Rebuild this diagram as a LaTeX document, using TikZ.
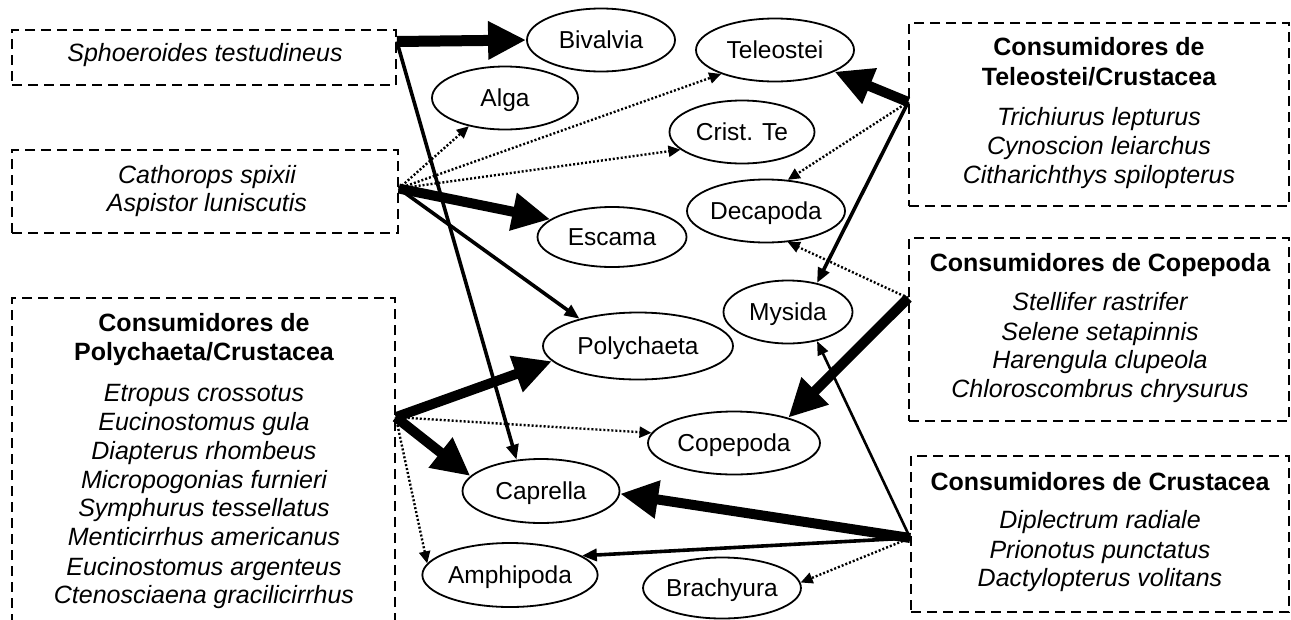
\documentclass[tikz,border=0pt]{standalone}
\usepackage{fontspec}
\setmainfont{Liberation Sans}
\usetikzlibrary{arrows.meta,shapes.geometric}

\begin{document}
\begin{tikzpicture}[x=1pt,y=-1pt,
  taxon/.style={ellipse, draw, line width=1.8pt, inner sep=0pt,
    font=\fontsize{24.5}{29}\selectfont, text height=17.5pt, text depth=0.5pt},
  group/.style={rectangle, draw, line width=1.6pt, dash pattern=on 10pt off 6pt, inner sep=0pt},
  title/.style={anchor=base, font=\fontsize{25}{29}\selectfont\bfseries},
  species/.style={anchor=base, font=\fontsize{25}{29}\selectfont\itshape},
  heavy/.style={line width=10pt, -{Triangle[length=38pt,width=36pt]}},
  medium/.style={line width=3.6pt, -{Triangle[length=15pt,width=12pt]}},
  light/.style={line width=2.6pt, -{Triangle[length=14pt,width=11pt]}},
  faint/.style={line width=2.4pt, dash pattern=on 2pt off 2pt, -{Triangle[length=12pt,width=11pt]}},
]
\useasboundingbox (0,0) rectangle (1291,619);

% prey groups
\node[taxon, minimum width=148pt, minimum height=63pt] (biv) at (601,40) {Bivalvia};
\node[taxon, minimum width=146pt, minimum height=63pt] (alg) at (505,98) {Alga};
\node[taxon, minimum width=158pt, minimum height=63pt] (tel) at (775,50) {Teleostei};
\node[taxon, minimum width=145pt, minimum height=63pt] (cri) at (742,132) {Crist. Te};
\node[taxon, minimum width=158pt, minimum height=63pt] (dec) at (766,211) {Decapoda};
\node[taxon, minimum width=149pt, minimum height=60pt] (esc) at (612,237) {Escama};
\node[taxon, minimum width=129pt, minimum height=63pt] (mys) at (788,312) {Mysida};
\node[taxon, minimum width=190pt, minimum height=67pt] (pol) at (638,346) {Polychaeta};
\node[taxon, minimum width=172pt, minimum height=63pt] (cop) at (734,443) {Copepoda};
\node[taxon, minimum width=157pt, minimum height=64pt] (cap) at (541,491) {Caprella};
\node[taxon, minimum width=150pt, minimum height=64pt] (amp) at (510,575) {Amphipoda};
\node[taxon, minimum width=149pt, minimum height=61pt] (bra) at (722,588) {Brachyura};

% consumer groups
\node[group, minimum width=384pt, minimum height=55pt] (sph) at (204,57.5) {};
\node[group, minimum width=386pt, minimum height=83pt] (cat) at (205,191.5) {};
\node[group, minimum width=383pt, minimum height=342pt] (pcr) at (203.5,469) {};
\node[group, minimum width=380pt, minimum height=183pt] (tcr) at (1099,114.5) {};
\node[group, minimum width=380pt, minimum height=183pt] (cpc) at (1099,329.5) {};
\node[group, minimum width=378pt, minimum height=156pt] (crc) at (1100,534) {};

% texts of the consumer groups
\node[species] (sph1) at (205,61.5) {Sphoeroides testudineus};

\node[species] (cat1) at (207,183.5) {Cathorops spixii};
\node[species] (cat2) at (207,211.5) {Aspistor luniscutis};

\node[title] (pcrt1) at (204,331.5) {Consumidores de};
\node[title] (pcrt2) at (204,360.5) {Polychaeta/Crustacea};
\node[species] (pcr1) at (204,401.5) {Etropus crossotus};
\node[species] (pcr2) at (204,430.5) {Eucinostomus gula};
\node[species] (pcr3) at (204,459.5) {Diapterus rhombeus};
\node[species] (pcr4) at (204,488.5) {Micropogonias furnieri};
\node[species] (pcr5) at (204,516.5) {Symphurus tessellatus};
\node[species] (pcr6) at (204,545.5) {Menticirrhus americanus};
\node[species] (pcr7) at (204,575.5) {Eucinostomus argenteus};
\node[species] (pcr8) at (204,603.5) {Ctenosciaena gracilicirrhus};

\node[title] (tcrt1) at (1099,55.5) {Consumidores de};
\node[title] (tcrt2) at (1099,85.5) {Teleostei/Crustacea};
\node[species] (tcr1) at (1099,125.5) {Trichiurus lepturus};
\node[species] (tcr2) at (1099,154.5) {Cynoscion leiarchus};
\node[species] (tcr3) at (1099,183.5) {Citharichthys spilopterus};

\node[title] (cpct) at (1100,271.5) {Consumidores de Copepoda};
\node[species] (cpc1) at (1100,310.5) {Stellifer rastrifer};
\node[species] (cpc2) at (1100,340.5) {Selene setapinnis};
\node[species] (cpc3) at (1100,368.5) {Harengula clupeola};
\node[species] (cpc4) at (1100,397.5) {Chloroscombrus chrysurus};

\node[title] (crct) at (1100,490.5) {Consumidores de Crustacea};
\node[species] (crc1) at (1100,528.5) {Diplectrum radiale};
\node[species] (crc2) at (1100,558.5) {Prionotus punctatus};
\node[species] (crc3) at (1100,586.5) {Dactylopterus volitans};

% ports on the box borders
\coordinate (sphout) at ([yshift=16pt]sph.east);
\coordinate (catout) at ([yshift=3pt]cat.east);
\coordinate (pcrout) at ([yshift=-120pt]pcr.north east);
\coordinate (tcrout) at ([yshift=12.5pt]tcr.west);
\coordinate (cpcout) at ([yshift=31.5pt]cpc.west);
\coordinate (crcout) at ([yshift=-4pt]crc.west);

% diet links
\draw[heavy, line width=11pt] (sphout) -- (biv.west);
\draw[medium] (sphout) -- (cap.128);

\draw[faint] (catout) -- (alg.218);
\draw[faint] (catout) -- (tel.204);
\draw[faint] (catout) -- (cri.196);
\draw[heavy] (catout) -- (esc.164);
\draw[medium] (catout) -- (pol.155);

\draw[heavy] (tcrout) -- (tel.-20);
\draw[faint] (tcrout) -- (dec.55);
\draw[medium] (tcrout) -- (mys.45);

\draw[faint] (cpcout) -- (dec.-55);
\draw[heavy] (cpcout) -- (cop.25);

\draw[heavy] (pcrout) -- (pol.190);
\draw[heavy] (pcrout) -- (cap.168);
\draw[faint] (pcrout) -- (cop.173);
\draw[faint] (pcrout) -- (amp.172);

\draw[heavy] (crcout) -- (cap.-2);
\draw[medium] (crcout) -- (amp.15);
\draw[light] (crcout) -- (mys.-45);
\draw[faint] (crcout) -- (bra.4);
\end{tikzpicture}
\end{document}
